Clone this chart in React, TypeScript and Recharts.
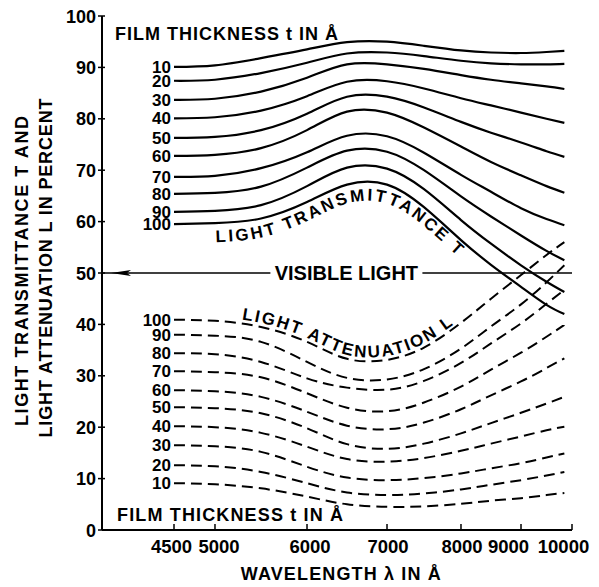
import React, { useEffect, useState } from 'react';
import { LineChart, Line, XAxis, YAxis, ReferenceLine } from 'recharts';

// ---------------- data ----------------
const WAVELENGTHS = [4500, 5000, 5500, 6000, 6500, 7000, 7500, 8000, 8500, 9000, 9500, 9850];
const THICKNESSES = [10, 20, 30, 40, 50, 60, 70, 80, 90, 100];

// Light transmittance T (%) per film thickness
const T10 = [90.1, 90.4, 91.8, 93.5, 94.9, 95.0, 94.2, 93.3, 92.9, 92.8, 93.0, 93.2];
const T20 = [87.4, 87.6, 88.9, 90.9, 92.7, 92.9, 92.2, 91.3, 90.8, 90.6, 90.6, 90.7];
const T30 = [83.7, 83.9, 85.3, 88.0, 90.6, 90.6, 89.7, 88.5, 87.6, 86.9, 86.3, 85.8];
const T40 = [80.1, 80.3, 81.6, 84.4, 87.2, 87.3, 85.9, 84.0, 82.6, 81.2, 80.0, 79.2];
const T50 = [76.3, 76.5, 77.8, 81.0, 84.3, 84.3, 82.2, 79.4, 77.3, 75.4, 73.7, 72.6];
const T60 = [72.8, 73.0, 74.3, 77.8, 81.4, 81.2, 78.3, 74.6, 71.6, 69.0, 66.9, 65.6];
const T70 = [68.7, 68.9, 70.4, 73.5, 76.7, 76.6, 73.4, 69.1, 65.8, 62.6, 60.5, 59.3];
const T80 = [65.4, 65.6, 66.8, 70.5, 73.8, 73.6, 70.0, 64.9, 61.0, 57.3, 54.3, 52.5];
const T90 = [61.9, 62.1, 63.2, 66.9, 70.5, 70.3, 66.3, 60.3, 55.7, 51.5, 48.3, 46.3];
const T100 = [59.5, 59.7, 60.6, 63.8, 67.2, 67.2, 62.8, 56.4, 51.6, 47.3, 43.8, 42.0];

// Light attenuation L (%) per film thickness
const L10 = [9.1, 8.9, 8.1, 6.5, 5.0, 4.5, 4.6, 5.1, 5.7, 6.2, 6.8, 7.2];
const L20 = [12.6, 12.4, 11.3, 9.1, 7.3, 6.8, 7.1, 7.9, 8.8, 9.7, 10.6, 11.3];
const L30 = [16.5, 16.3, 15.2, 12.3, 10.2, 9.7, 10.1, 11.0, 12.0, 13.0, 14.1, 14.9];
const L40 = [20.2, 20.0, 18.9, 16.2, 13.8, 13.3, 14.0, 15.4, 16.8, 18.2, 19.4, 20.1];
const L50 = [23.9, 23.7, 22.7, 19.8, 16.7, 15.8, 16.8, 18.8, 20.8, 22.8, 24.6, 25.9];
const L60 = [27.2, 27.0, 25.9, 23.0, 20.3, 19.6, 20.9, 23.5, 26.2, 28.9, 31.5, 33.4];
const L70 = [30.9, 30.7, 29.7, 26.6, 23.8, 23.1, 24.8, 27.9, 31.2, 34.5, 37.6, 39.9];
const L80 = [34.4, 34.2, 32.7, 29.5, 27.7, 27.3, 29.0, 32.5, 36.3, 40.2, 44.0, 46.7];
const L90 = [38.0, 37.8, 36.6, 32.7, 29.6, 29.3, 31.3, 35.3, 39.6, 43.9, 48.2, 51.5];
const L100 = [40.9, 40.7, 39.5, 36.6, 33.3, 33.1, 35.5, 40.3, 45.0, 49.6, 53.5, 56.0];

const TRANSMITTANCE = [T10, T20, T30, T40, T50, T60, T70, T80, T90, T100];
const ATTENUATION = [L10, L20, L30, L40, L50, L60, L70, L80, L90, L100];

const X_TICKS = [4500, 5000, 6000, 7000, 8000, 9000, 10000];
const Y_TICKS = [0, 10, 20, 30, 40, 50, 60, 70, 80, 90, 100];
const X_DOMAIN = [3620, 10000];
// The original wavelength axis is hand-drawn and non-uniform:
// tick wavelengths and their relative position along the axis.
const AXIS_BREAKS = [3620, 4500, 5000, 6000, 7000, 8000, 9000, 10000];
const AXIS_FRACTIONS = [0, 0.1532, 0.2404, 0.4362, 0.6064, 0.7638, 0.8915, 1];
const VISIBLE_LIGHT_LIMIT = 50;

// ---------------- styling ----------------
const FONT = "'Liberation Sans', Arial, Helvetica, sans-serif";
const X_LABEL_NUDGE = [-2.5, 4, 3, 1, 1, -12.5, -8.5];

const rows = WAVELENGTHS.map((w, i) => {
  const r: Record<string, number> = { w };
  THICKNESSES.forEach((t, k) => {
    r['t' + t] = TRANSMITTANCE[k][i];
    r['l' + t] = ATTENUATION[k][i];
  });
  return r;
});

function makeWavelengthScale(dom: number[] = X_DOMAIN, rng: number[] = [0, 1]): any {
  let d = dom.slice();
  let r = rng.slice();
  const frac = (v: number) => {
    const b = AXIS_BREAKS;
    const f = AXIS_FRACTIONS;
    for (let i = 1; i < b.length; i++) {
      if (v <= b[i] || i === b.length - 1) {
        return f[i - 1] + ((v - b[i - 1]) * (f[i] - f[i - 1])) / (b[i] - b[i - 1]);
      }
    }
    return 1;
  };
  const scale: any = (v: any) => r[0] + frac(Number(v)) * (r[1] - r[0]);
  scale.domain = (x?: any) => {
    if (x === undefined) return d.slice();
    d = Array.from(x as number[]);
    return scale;
  };
  scale.range = (x?: any) => {
    if (x === undefined) return r.slice();
    r = Array.from(x as number[]).map(Number);
    return scale;
  };
  scale.copy = () => makeWavelengthScale(d, r);
  scale.ticks = () => X_TICKS.slice();
  scale.tickFormat = () => (v: any) => String(v);
  return scale;
}
const wlScale = makeWavelengthScale();

const BottomTick = (props: any) => {
  const { x, y, payload, index } = props;
  return (
    <g>
      <line x1={x} y1={y} x2={x} y2={y - 6} stroke="#000" strokeWidth={1.5} />
      <text x={x + (X_LABEL_NUDGE[index] ?? 0)} y={y + 23} textAnchor="middle" fontSize={18.5} fontWeight="bold" fontFamily={FONT} fill="#000">
        {payload.value}
      </text>
    </g>
  );
};
const TopTick = (props: any) => {
  const { x, y } = props;
  return <line x1={x} y1={y} x2={x} y2={y + 6} stroke="#000" strokeWidth={1.5} />;
};
const LeftTick = (props: any) => {
  const { x, y, payload } = props;
  return (
    <g>
      <line x1={x - 4} y1={y} x2={x + 3} y2={y} stroke="#000" strokeWidth={1.5} />
      <text x={x - 6} y={y + 6.5} textAnchor="end" fontSize={18} fontWeight="bold" fontFamily={FONT} fill="#000">
        {payload.value}
      </text>
    </g>
  );
};
const RightTick = (props: any) => {
  const { x, y } = props;
  return <line x1={x - 5} y1={y} x2={x} y2={y} stroke="#000" strokeWidth={1.5} />;
};

const startLabel = (text: string) => (props: any) => {
  const vb = props.viewBox || {};
  const x = props.x ?? vb.x;
  const y = props.y ?? vb.y;
  const first = props.index === 0 || (props.payload && props.payload.w === WAVELENGTHS[0]);
  if (!first || x == null || y == null) return null;
  return (
    <text x={x - 3} y={y + 6} textAnchor="end" fontSize={17} fontWeight="bold" fontFamily={FONT} fill="#000">
      {text}
    </text>
  );
};

const VisibleLightLabel = (props: any) => {
  const vb = props.viewBox || {};
  const x0 = vb.x;
  const y0 = vb.y;
  const w = vb.width;
  const cx = x0 + w * 0.52;
  return (
    <g>
      <rect x={cx - 76} y={y0 - 11} width={152} height={22} fill="#fff" />
      <text x={cx} y={y0 + 7} textAnchor="middle" fontSize={20} fontWeight="bold" fontFamily={FONT} fill="#000">
        VISIBLE LIGHT
      </text>
      <polygon
        points={`${x0 + 9},${y0} ${x0 + 29},${y0 - 3} ${x0 + 25},${y0} ${x0 + 29},${y0 + 3}`}
        fill="#000"
      />
    </g>
  );
};

const XTitle = (props: any) => {
  const vb = props.viewBox || {};
  return (
    <text x={vb.x + vb.width * 0.508} y={vb.y + 50} textAnchor="middle" fontSize={18} fontWeight="bold" fontFamily={FONT} fill="#000" textLength={200} lengthAdjust="spacing">
      WAVELENGTH λ IN Å
    </text>
  );
};
const YTitle = (props: any) => {
  const vb = props.viewBox || {};
  const cy = vb.y + vb.height / 2 - 2;
  return (
    <g>
      <text x={28} y={cy} transform={`rotate(-90, 28, ${cy})`} textAnchor="middle" fontSize={18} fontWeight="bold" fontFamily={FONT} fill="#000" textLength={310} lengthAdjust="spacing">
        LIGHT TRANSMITTANCE T AND
      </text>
      <text x={52} y={cy - 3} transform={`rotate(-90, 52, ${cy - 3})`} textAnchor="middle" fontSize={18} fontWeight="bold" fontFamily={FONT} fill="#000" textLength={339} lengthAdjust="spacing">
        LIGHT ATTENUATION L IN PERCENT
      </text>
    </g>
  );
};

export default function App() {
  const [curves, setCurves] = useState<{ t: string; l: string } | null>(null);

  useEffect(() => {
    let tries = 0;
    const timer = setInterval(() => {
      tries++;
      let t = document.querySelector('.curve-t100 path.recharts-line-curve');
      let l = document.querySelector('.curve-l100 path.recharts-line-curve');
      if (!t || !l) {
        const all = document.querySelectorAll('path.recharts-line-curve');
        if (all.length >= 20) {
          t = all[9];
          l = all[19];
        }
      }
      const td = t?.getAttribute('d');
      const ld = l?.getAttribute('d');
      if (td && ld) {
        setCurves({ t: td, l: ld });
        clearInterval(timer);
      } else if (tries > 200) clearInterval(timer);
    }, 20);
    return () => clearInterval(timer);
  }, []);

  return (
    <div style={{ position: 'absolute', left: 0, top: 0, width: 599, height: 587, background: '#fff' }}>
      <LineChart width={599} height={587} data={rows} margin={{ top: 16, right: 27, bottom: 0, left: 0 }}>
        <XAxis
          dataKey="w"
          type="number"
          scale={wlScale}
          domain={X_DOMAIN}
          allowDataOverflow
          ticks={X_TICKS}
          interval={0}
          height={57}
          tickSize={0}
          tickMargin={0}
          tickLine={false}
          tick={<BottomTick />}
          axisLine={{ stroke: '#000', strokeWidth: 2 }}
          label={<XTitle />}
        />
        <XAxis
          xAxisId="top"
          orientation="top"
          dataKey="w"
          type="number"
          scale={wlScale}
          domain={X_DOMAIN}
          allowDataOverflow
          ticks={X_TICKS}
          interval={0}
          height={0}
          tickSize={0}
          tickMargin={0}
          tickLine={false}
          tick={<TopTick />}
          axisLine={{ stroke: '#000', strokeWidth: 2 }}
        />
        <YAxis
          type="number"
          domain={[0, 100]}
          ticks={Y_TICKS}
          interval={0}
          width={102}
          tickSize={0}
          tickMargin={0}
          tickLine={false}
          tick={<LeftTick />}
          axisLine={{ stroke: '#000', strokeWidth: 2 }}
          label={<YTitle />}
        />
        <YAxis
          yAxisId="right"
          orientation="right"
          type="number"
          domain={[0, 100]}
          allowDataOverflow
          ticks={Y_TICKS}
          interval={0}
          width={0}
          tickSize={0}
          tickMargin={0}
          tickLine={false}
          tick={<RightTick />}
          axisLine={{ stroke: '#000', strokeWidth: 2 }}
        />
        <ReferenceLine
          y={VISIBLE_LIGHT_LIMIT}
          stroke="#000"
          strokeWidth={1.5}
          ifOverflow="visible"
          label={<VisibleLightLabel />}
        />
        {THICKNESSES.map((t) => (
          <Line
            key={'t' + t}
            className={'curve-t' + t}
            dataKey={'t' + t}
            type="natural"
            stroke="#000"
            strokeWidth={2.2}
            dot={false}
            activeDot={false}
            isAnimationActive={false}
            label={startLabel(String(t))}
          />
        ))}
        {THICKNESSES.map((t) => (
          <Line
            key={'l' + t}
            className={'curve-l' + t}
            dataKey={'l' + t}
            type="natural"
            stroke="#000"
            strokeWidth={2}
            strokeDasharray="11 6"
            dot={false}
            activeDot={false}
            isAnimationActive={false}
            label={startLabel(String(t))}
          />
        ))}
      </LineChart>
      <svg width={599} height={587} style={{ position: 'absolute', left: 0, top: 0, pointerEvents: 'none' }}>
        <text x={115} y={40} fontSize={18} fontWeight="bold" fontFamily={FONT} fill="#000" textLength={223} lengthAdjust="spacing">
          FILM THICKNESS t IN Å
        </text>
        <text x={117} y={521} fontSize={18} fontWeight="bold" fontFamily={FONT} fill="#000" textLength={226} lengthAdjust="spacing">
          FILM THICKNESS t IN Å
        </text>
        {curves && (
          <g>
            <defs>
              <path id="t100-path" d={curves.t} />
              <path id="l100-path" d={curves.l} />
            </defs>
            <text transform="translate(0,19)" fontSize={17} fontWeight="bold" fontFamily={FONT} fill="#000" letterSpacing={2.5}>
              <textPath href="#t100-path" startOffset={42}>
                LIGHT TRANSMITTANCE T
              </textPath>
            </text>
            <text transform="translate(0,-4)" fontSize={17} fontWeight="bold" fontFamily={FONT} fill="#000" letterSpacing={2}>
              <textPath href="#l100-path" startOffset={68}>
                LIGHT ATTENUATION L
              </textPath>
            </text>
          </g>
        )}
      </svg>
    </div>
  );
}
